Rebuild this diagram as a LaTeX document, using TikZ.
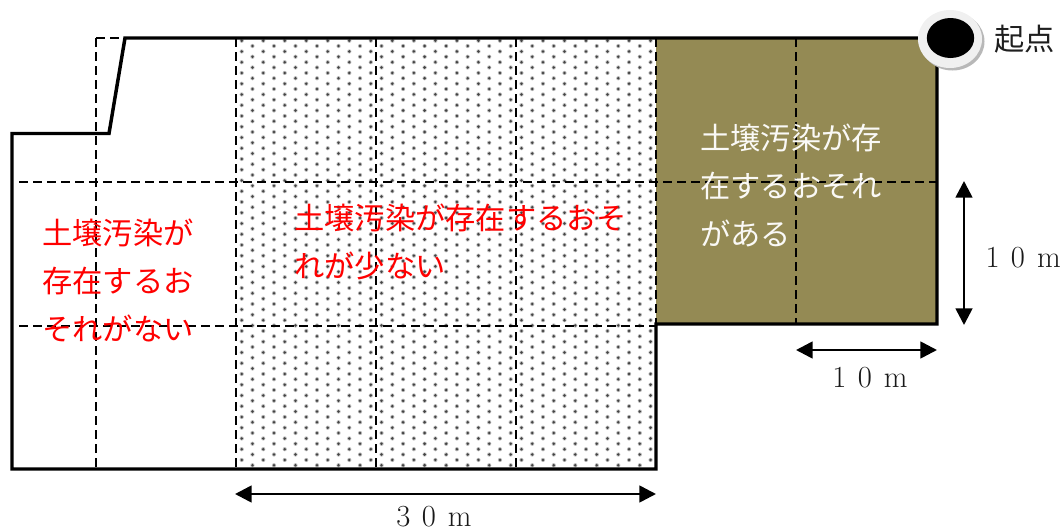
\documentclass[tikz,border=0pt]{standalone}
\usepackage{fontspec}
\usetikzlibrary{arrows.meta,shapes.geometric}
\newfontfamily\jpfont{Noto Sans CJK JP}
\definecolor{olive}{HTML}{948A54}
\definecolor{dotgrey}{HTML}{444444}
\newcommand{\dimlabel}[2]{#1\hspace{8.5pt}#2\hspace{9pt}m}
\tikzset{
  x=0.75pt,y=-0.75pt,
  gridline/.style={black,line width=1.4pt,dash pattern=on 6.5pt off 4pt},
  outline/.style={black,line width=2.6pt,line join=miter},
  dimarrow/.style={black,line width=2pt,{Triangle[length=12.5pt,width=12.5pt]}-{Triangle[length=12.5pt,width=12.5pt]}},
  jptext/.style={font=\jpfont\fontsize{22.7}{36}\selectfont,align=left,inner sep=0pt,anchor=west},
  dimtext/.style={font=\fontsize{23}{27}\selectfont,text=black!90,inner sep=0pt},
  marker/.style={ellipse,inner sep=0pt,minimum width=#1},
}
\begin{document}
\begin{tikzpicture}
\useasboundingbox (0,0) rectangle (1064,532);
% dotted zone
\foreach \c in {0,...,38}{
  \pgfmathsetmacro{\xx}{241.7+10.76*\c}
  \pgfmathsetmacro{\ys}{isodd(\c)?46:40.7}
  \foreach \r in {0,...,39}{
    \pgfmathsetmacro{\yy}{\ys+10.75*\r}
    \ifdim\yy pt<468pt
      \fill[dotgrey!35] (\xx,\yy) circle (1.6pt);
      \fill[dotgrey] (\xx,\yy) circle (1.05pt);
    \fi
  }
}
% contaminated area
\fill[olive] (656,38) rectangle (937,324);
% mesh
\foreach \vx/\vy in {96/469,236/469,376/469,516/469,656/469,796/324}{
  \draw[gridline] (\vx,38) -- (\vx,\vy);
}
\draw[gridline] (96,38) -- (125,38);
\draw[gridline] (19,182) -- (936,182);
\draw[gridline] (19,326) -- (656,326);
\draw[gridline] (236,469) -- (656,469);
% site outline
\draw[outline] (12,133.5) -- (109,133.5) -- (125,38) -- (937,38) -- (937,324) -- (656,324) -- (656,469) -- (12,469) -- cycle;
% start point marker
\fill[black!28] (952.5,41.5) ellipse (24pt and 21.75pt);
\fill[black!6] (950,39) ellipse (24pt and 21.75pt);
\node[marker=35.5pt,minimum height=30pt,fill=black] (start) at (950.5,38) {};
\node[jptext,text=black!88] (startlabel) at (994,39.5) {起点};
% labels
\node[jptext,text=red] (none) at (42,280.5) {土壌汚染が\\存在するお\\それがない};
\node[jptext,text=red] (low) at (294,241.5) {土壌汚染が存在するおそ\\れが少ない};
\node[jptext,text=white!95!olive] (risk) at (700,185) {土壌汚染が存\\在するおそれ\\がある};
% dimensions
\coordinate (va) at (964,181);
\coordinate (vb) at (964,325);
\coordinate (ha) at (796,350);
\coordinate (hb) at (937,350);
\coordinate (la) at (235,494);
\coordinate (lb) at (656,494);
\draw[dimarrow] (va) -- (vb);
\draw[dimarrow] (ha) -- (hb);
\draw[dimarrow] (la) -- (lb);
\node[dimtext,anchor=east] (dimv) at (1061,258) {\dimlabel{1}{0}};
\node[dimtext] (dimh) at (870,378) {\dimlabel{1}{0}};
\node[dimtext] (diml) at (434,517) {\dimlabel{3}{0}};
\end{tikzpicture}
\end{document}
